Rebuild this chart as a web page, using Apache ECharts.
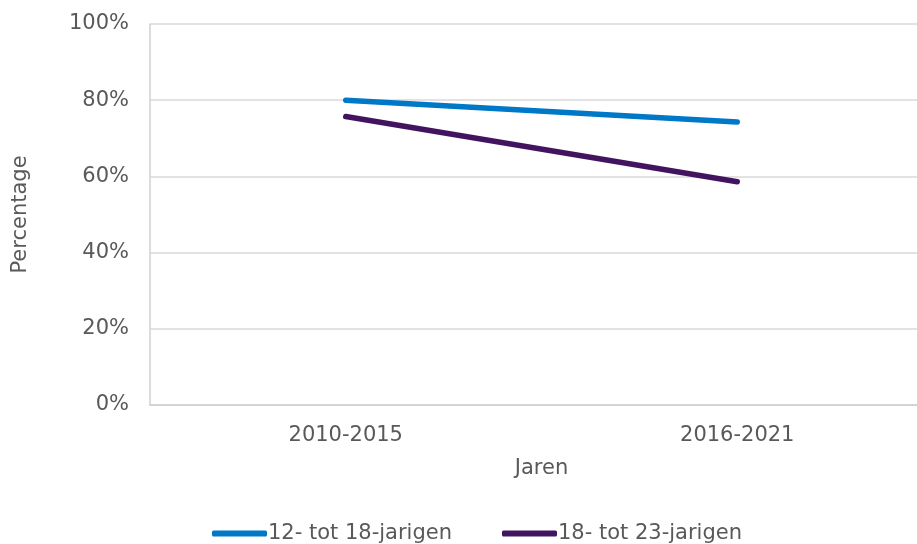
<!DOCTYPE html>
<html>
<head>
<meta charset="utf-8">
<script src="https://cdn.jsdelivr.net/npm/echarts@6/dist/echarts.min.js"></script>
<style>
	html, body { margin: 0; padding: 0; background: #fff; }
	#chart { width: 917px; height: 544px; }
</style>
</head>
<body>
<div id="chart"></div>
<script>
var categories = ['2010-2015', '2016-2021'];
var seriesNames = ['12- tot 18-jarigen', '18- tot 23-jarigen'];
var youth12to18 = [80.0, 74.3];
var youth18to23 = [75.7, 58.6];
var yTicks = [0, 20, 40, 60, 80, 100];

var textColor = '#595959';
var fontFamily = "'DejaVu Sans', Verdana, sans-serif";

var chart = echarts.init(document.getElementById('chart'));
chart.setOption({
	animation : false,
	color : [ '#0078C8', '#42145F' ],
	textStyle : { fontFamily : fontFamily, color : textColor },
	grid : { left : 150, right : -16, top : 24, bottom : 139, containLabel : false, outerBoundsMode : 'none' },
	legend : {
		bottom : -5,
		left : 207,
		itemWidth : 55,
		itemHeight : 6,
		itemGap : 50,
		icon : 'roundRect',
		textStyle : { fontSize : 21, color : textColor, fontFamily : fontFamily, padding : [ 0, 0, 0, -4 ] },
		data : seriesNames
	},
	xAxis : {
		type : 'category',
		data : categories,
		name : 'Jaren',
		nameLocation : 'middle',
		nameGap : 53,
		nameTextStyle : { fontSize : 21, color : textColor },
		axisLine : { lineStyle : { color : '#d0d0d0', width : 1.5 } },
		axisTick : { show : false },
		axisLabel : { fontSize : 21, color : textColor, margin : 20 }
	},
	yAxis : {
		type : 'value',
		min : yTicks[0],
		max : yTicks[yTicks.length - 1],
		interval : 20,
		name : 'Percentage',
		nameLocation : 'middle',
		nameGap : 119,
		nameTextStyle : { fontSize : 21, color : textColor },
		axisLine : { show : true, lineStyle : { color : '#d0d0d0', width : 1.5 } },
		axisTick : { show : false },
		splitLine : { lineStyle : { color : '#d9d9d9', width : 1.5 } },
		axisLabel : { fontSize : 21, color : textColor, margin : 21, formatter : '{value}%' }
	},
	series : [ {
		name : seriesNames[0],
		type : 'line',
		data : youth12to18,
		symbol : 'none',
		lineStyle : { width : 5.5, cap : 'round' }
	}, {
		name : seriesNames[1],
		type : 'line',
		data : youth18to23,
		symbol : 'none',
		lineStyle : { width : 5.5, cap : 'round' }
	} ]
});
</script>
</body>
</html>
